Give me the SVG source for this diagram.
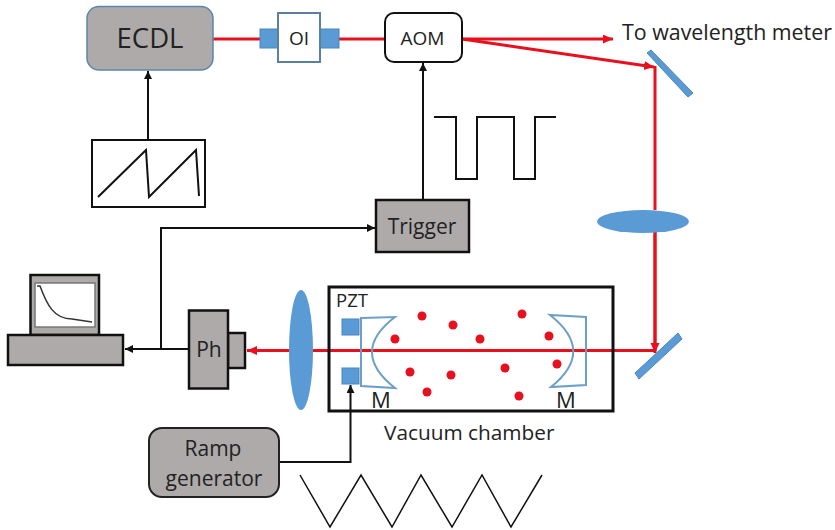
<svg xmlns="http://www.w3.org/2000/svg" width="835" height="530" viewBox="0 0 835 530">
<defs>
<marker id="ah" markerUnits="userSpaceOnUse" markerWidth="10" markerHeight="10" refX="8" refY="4" orient="auto"><path d="M0 0L8 4L0 8z" fill="#111"/></marker>
<marker id="rh" markerUnits="userSpaceOnUse" markerWidth="12" markerHeight="10" refX="10" refY="4.5" orient="auto"><path d="M0 0L10 4.5L0 9z" fill="#e8101c"/></marker>
</defs>
<style>
text{font-family:"Open Sans","Liberation Sans",sans-serif;fill:#222}
.g{fill:#aeaaaa;stroke:#111;stroke-width:2.5}
.b{fill:#5b9bd5;stroke:#4a85bd;stroke-width:1}
.r{fill:none;stroke:#e8101c;stroke-width:3}
.k{fill:none;stroke:#111;stroke-width:2}
.d{fill:#e8101c}
.m{fill:none;stroke:#6b9fc8;stroke-width:2}
</style>
<g id="connectors">
<path class="r" d="M213 39H260M338 39H385"/>
<path class="r" marker-end="url(#rh)" d="M462 39H613"/>
<path class="r" marker-end="url(#rh)" d="M462 39L654 67"/>
<path class="r" d="M655 66V210M655 232V351"/>
<path class="r" marker-end="url(#rh)" d="M655 232V353"/>
<path class="r" marker-end="url(#rh)" d="M655 350.500H247"/>
<path class="k" marker-end="url(#ah)" d="M148 140V71"/>
<path class="k" marker-end="url(#ah)" d="M423 199V63"/>
<path class="k" marker-end="url(#ah)" d="M161 349V228H375"/>
<path class="k" marker-end="url(#ah)" d="M189 349H125"/>
<path class="k" marker-end="url(#ah)" d="M279 462H350.500V385"/>
</g>
<g id="ecdl"><rect x="87" y="6.500" width="126" height="63.500" rx="12" fill="#aeaaaa" stroke="#5b86ad" stroke-width="1.500"/><text x="150" y="48" font-size="27.500" text-anchor="middle">ECDL</text></g>
<g id="oi"><rect x="260" y="29" width="19" height="19" class="b"/><rect x="319" y="29" width="20" height="19" class="b"/><rect x="278" y="13" width="42" height="49" fill="#fff" stroke="#5b7f9f" stroke-width="2"/><text x="299" y="45" font-size="19" text-anchor="middle">OI</text></g>
<g id="aom"><rect x="385" y="13" width="77" height="49" rx="9" fill="#fff" stroke="#111" stroke-width="2"/><text x="422.500" y="45" font-size="19" text-anchor="middle">AOM</text></g>
<g id="saw"><rect x="92" y="140" width="113" height="67" fill="#fff" stroke="#111" stroke-width="2"/><path class="k" d="M98 197L146 150L149 197L196 150L199 196"/></g>
<g id="pulse"><path class="k" d="M434 117H456V179H477V117H514V179H535V117H556"/></g>
<g id="trigger"><rect x="376" y="200" width="93" height="52" class="g"/><text x="422" y="234" font-size="21" text-anchor="middle">Trigger</text></g>
<g id="mirror-top"><path class="b" d="M647 53L651 50L693 93L688 97z"/></g>
<g id="mirror-bottom"><path class="b" d="M635 373L678 333L682 339L639 379z"/></g>
<g id="lens-h"><ellipse cx="643" cy="221.500" rx="46" ry="11.500" fill="#5b9bd5"/></g>
<g id="lens-v"><ellipse cx="301" cy="350" rx="12" ry="60" fill="#5b9bd5"/></g>
<g id="computer"><rect x="30.500" y="275" width="68.500" height="60" class="g"/><rect x="35" y="283" width="60" height="44" fill="#fff" stroke="#777" stroke-width="1.500"/><path d="M37 286H40C47 305 54 319 72 319L92 322" fill="none" stroke="#333" stroke-width="1.500"/><rect x="8" y="335" width="115" height="30" class="g"/></g>
<g id="ph"><rect x="228" y="333" width="17" height="35" class="g"/><rect x="189" y="310.500" width="39" height="78" class="g"/><text x="209" y="357" font-size="21" text-anchor="middle">Ph</text></g>
<g id="chamber"><rect x="329" y="287" width="284" height="124" fill="none" stroke="#111" stroke-width="3"/></g>
<g id="pzt"><rect x="342" y="319" width="17" height="16" class="b"/><rect x="342" y="368" width="17" height="16" class="b"/><text x="336" y="307" font-size="18.500">PZT</text></g>
<g id="mirror-left"><path class="m" d="M361 318L395 317Q349 352 395 388L361 386z"/><text x="381" y="408" font-size="22" text-anchor="middle">M</text></g>
<g id="mirror-right"><path class="m" d="M586 317L550 315Q596 351 551 387L586 385z"/><text x="566" y="408" font-size="22" text-anchor="middle">M</text></g>
<g id="atoms">
<circle class="d" cx="395" cy="339" r="4.500"/><circle class="d" cx="422" cy="316" r="4.500"/><circle class="d" cx="453" cy="325" r="4.500"/><circle class="d" cx="480" cy="339" r="4.500"/><circle class="d" cx="522" cy="314" r="4.500"/><circle class="d" cx="549" cy="336" r="4.500"/><circle class="d" cx="557" cy="364" r="4.500"/><circle class="d" cx="505" cy="368" r="4.500"/><circle class="d" cx="519" cy="396" r="4.500"/><circle class="d" cx="451" cy="375" r="4.500"/><circle class="d" cx="410" cy="372" r="4.500"/><circle class="d" cx="427" cy="392" r="4.500"/>
</g>
<g id="ramp"><rect x="149" y="428" width="130" height="69" rx="13" fill="#aeaaaa" stroke="#222" stroke-width="2"/><text x="213" y="456" font-size="21" text-anchor="middle">Ramp</text><text x="214" y="486" font-size="21" text-anchor="middle">generator</text></g>
<g id="triangle"><path fill="none" stroke="#111" stroke-width="1.500" d="M300 475L330 527L361 475L392 527L421 475L452 527L482 475L511 527L542 475"/></g>
<text x="622" y="40" font-size="21.400">To wavelength meter</text>
<text x="384" y="440" font-size="20.800">Vacuum chamber</text>
</svg>
